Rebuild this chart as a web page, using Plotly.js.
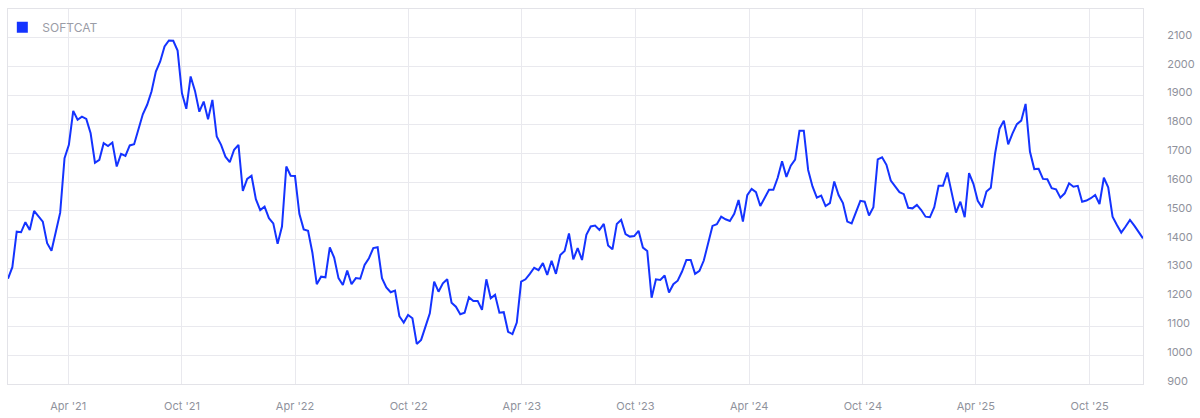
<!DOCTYPE html>
<html>
<head>
<meta charset="utf-8">
<script src="https://cdn.plot.ly/plotly-3.0.1.min.js"></script>
<style>
  html, body { margin: 0; padding: 0; background: #ffffff; }
  #chart { width: 1200px; height: 418px; }
</style>
</head>
<body>
<div id="chart"></div>
<script>
// Weekly closing prices (start date + weekly steps)
const seriesName = 'SOFTCAT';
const startDate = '2020-12-25';
const prices = [
  1265, 1305, 1428, 1426, 1461, 1434, 1500, 1480, 1463, 1388,
  1362, 1428, 1494, 1683, 1729, 1847, 1816, 1827, 1819, 1769,
  1667, 1677, 1735, 1725, 1737, 1654, 1698, 1691, 1727, 1731,
  1787, 1835, 1868, 1914, 1983, 2018, 2070, 2091, 2090, 2056,
  1908, 1854, 1966, 1916, 1844, 1879, 1818, 1885, 1758, 1729,
  1688, 1669, 1712, 1729, 1569, 1611, 1622, 1541, 1503, 1515,
  1475, 1457, 1386, 1446, 1654, 1622, 1621, 1490, 1436, 1431,
  1355, 1246, 1272, 1270, 1374, 1338, 1267, 1243, 1293, 1246,
  1267, 1265, 1313, 1336, 1371, 1374, 1267, 1235, 1218, 1224,
  1135, 1113, 1139, 1128, 1039, 1053, 1099, 1145, 1255, 1220,
  1249, 1263, 1182, 1168, 1142, 1147, 1201, 1188, 1188, 1157,
  1263, 1197, 1209, 1147, 1149, 1081, 1073, 1113, 1255, 1263,
  1282, 1303, 1295, 1319, 1278, 1327, 1282, 1347, 1361, 1422,
  1332, 1371, 1330, 1417, 1446, 1449, 1434, 1455, 1380, 1367,
  1455, 1469, 1420, 1411, 1413, 1431, 1373, 1361, 1199, 1263,
  1261, 1276, 1217, 1246, 1258, 1290, 1330, 1330, 1282, 1292,
  1328, 1388, 1448, 1454, 1480, 1471, 1465, 1490, 1538, 1463,
  1555, 1576, 1565, 1517, 1544, 1573, 1573, 1615, 1672, 1618,
  1657, 1678, 1778, 1778, 1642, 1585, 1546, 1553, 1517, 1527,
  1602, 1555, 1527, 1463, 1457, 1498, 1535, 1532, 1484, 1513,
  1679, 1686, 1660, 1605, 1584, 1565, 1558, 1511, 1509, 1521,
  1503, 1480, 1478, 1513, 1587, 1587, 1633, 1563, 1494, 1532,
  1478, 1631, 1594, 1535, 1512, 1567, 1580, 1700, 1785, 1813,
  1731, 1769, 1801, 1813, 1871, 1706, 1645, 1646, 1611, 1610,
  1579, 1575, 1546, 1561, 1596, 1584, 1587, 1532, 1536, 1544,
  1555, 1524, 1615, 1582, 1480, 1451, 1425, 1446, 1469, 1449,
  1428, 1405
];
const xTickVals = ['2021-04-01','2021-10-01','2022-04-01','2022-10-01','2023-04-01',
                   '2023-10-01','2024-04-01','2024-10-01','2025-04-01','2025-10-01'];
const xTickText = ["Apr '21","Oct '21","Apr '22","Oct '22","Apr '23",
                   "Oct '23","Apr '24","Oct '24","Apr '25","Oct '25"];
const yTickVals = [900,1000,1100,1200,1300,1400,1500,1600,1700,1800,1900,2000,2100];
const yTickText = yTickVals.map(String);

// build weekly dates
const dates = [];
const d0 = new Date(startDate + 'T00:00:00Z');
for (let i = 0; i < prices.length; i++) {
  const d = new Date(d0.getTime() + i * 7 * 86400000);
  dates.push(d.toISOString().slice(0, 10));
}

const blue = '#1433ff';
const grid = '#e9e9ee';
const tickColor = '#8f929c';

const traces = [
  {
    type: 'scatter', mode: 'lines', x: dates, y: prices,
    line: { color: blue, width: 2 }, showlegend: false, hoverinfo: 'x+y'
  },
  {
    type: 'scatter', mode: 'markers', x: [null], y: [null], name: seriesName,
    marker: { symbol: 'square', size: 11, color: blue }, showlegend: true
  }
];

const layout = {
  width: 1200, height: 418,
  margin: { l: 8, r: 57, t: 9, b: 34, pad: 0, autoexpand: false },
  paper_bgcolor: '#ffffff', plot_bgcolor: '#ffffff',
  font: { family: 'Inter, Lato, sans-serif', size: 11, color: tickColor },
  showlegend: true,
  legend: {
    x: -0.005, y: 0.99, xanchor: 'left', yanchor: 'top',
    bgcolor: 'rgba(0,0,0,0)', borderwidth: 0,
    font: { family: 'Inter, Lato, sans-serif', size: 12, color: '#9a9ca6' }
  },
  xaxis: {
    type: 'date',
    range: [dates[0], dates[dates.length - 1]],
    tickvals: xTickVals, ticktext: xTickText,
    showgrid: true, gridcolor: grid, gridwidth: 1,
    showline: true, mirror: true, linecolor: '#e3e3e8', linewidth: 1,
    zeroline: false, ticks: '',
    ticklabelstandoff: 12,
    tickfont: { size: 11, color: tickColor }
  },
  yaxis: {
    range: [900, 2200], side: 'right',
    tickvals: yTickVals, ticktext: yTickText,
    showgrid: true, gridcolor: grid, gridwidth: 1,
    showline: true, mirror: true, linecolor: '#e3e3e8', linewidth: 1,
    zeroline: false, ticks: '',
    ticklabelstandoff: 21,
    ticklabelshift: -3,
    tickfont: { size: 11, color: tickColor }
  }
};

Plotly.newPlot('chart', traces, layout, { displayModeBar: false, staticPlot: true });
</script>
</body>
</html>
